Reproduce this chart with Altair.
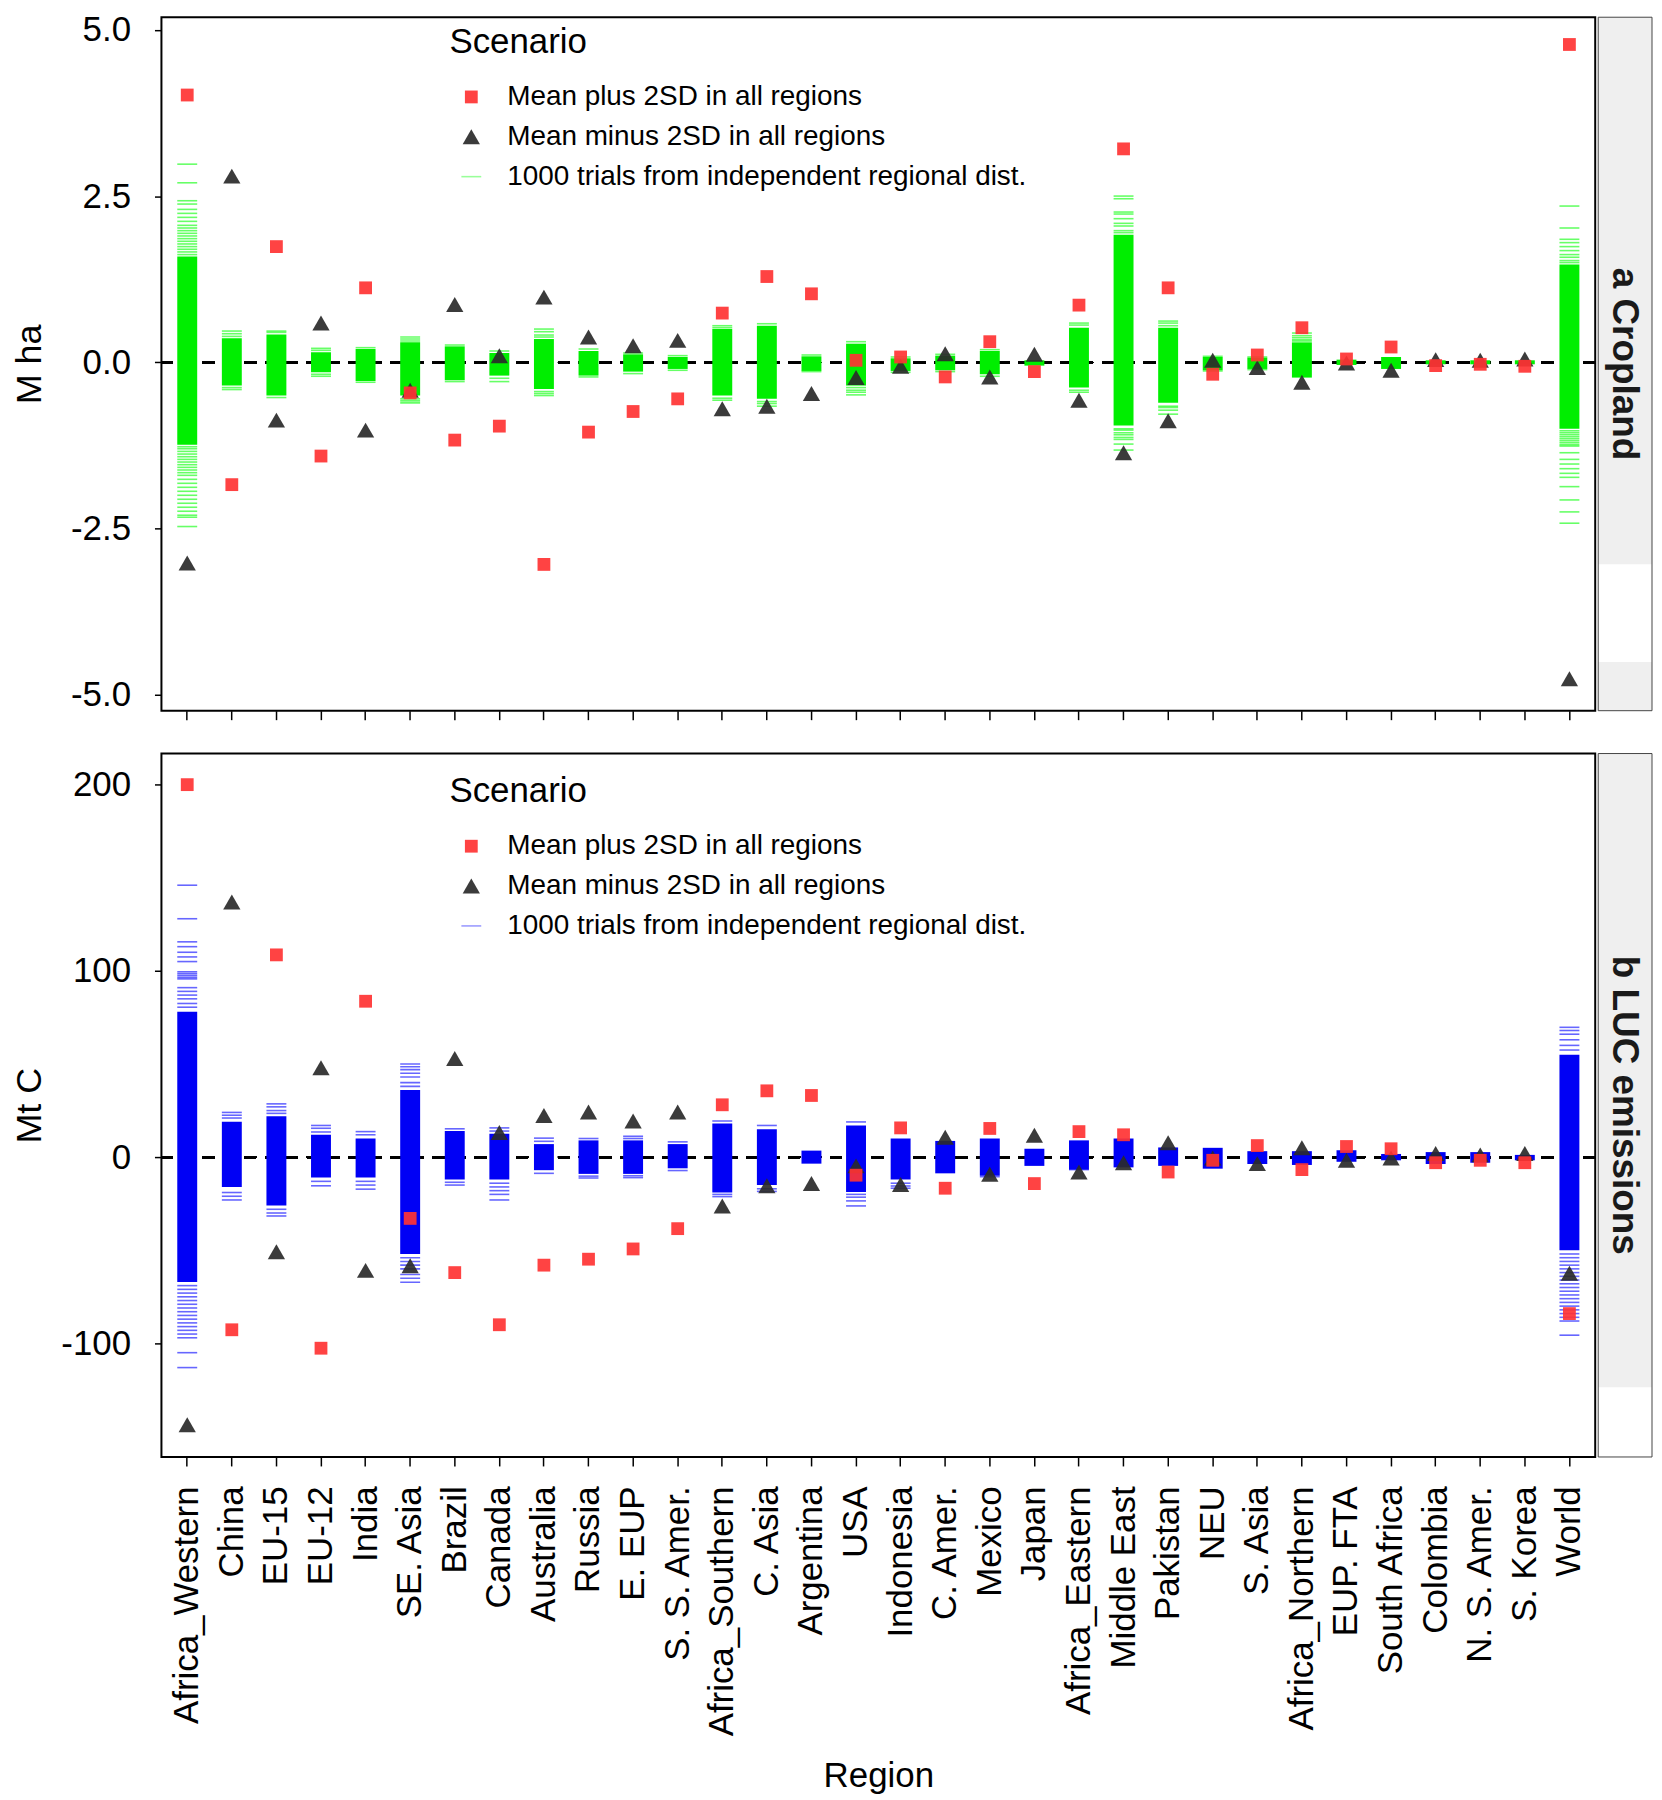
import altair as alt
import pandas as pd

FONT = "Liberation Sans"

regions = ["Africa_Western", "China", "EU-15", "EU-12", "India", "SE. Asia", "Brazil",
           "Canada", "Australia", "Russia", "E. EUP", "S. S. Amer.", "Africa_Southern",
           "C. Asia", "Argentina", "USA", "Indonesia", "C. Amer.", "Mexico", "Japan",
           "Africa_Eastern", "Middle East", "Pakistan", "NEU", "S. Asia", "Africa_Northern",
           "EUP. FTA", "South Africa", "Colombia", "N. S. Amer.", "S. Korea", "World"]

series_names = ["Mean plus 2SD in all regions", "Mean minus 2SD in all regions",
                "1000 trials from independent regional dist."]

# ---- panel a: Cropland (M ha) ----
crop_plus = [4.02, -1.84, 1.74, -1.41, 1.12, -0.46, -1.17, -0.96, -3.04, -1.05, -0.74, -0.55,
             0.74, 1.29, 1.03, 0.03, 0.08, -0.22, 0.31, -0.14, 0.86, 3.21, 1.12, -0.18,
             0.11, 0.52, 0.05, 0.23, -0.05, -0.03, -0.06, 4.78]
crop_minus = [-3.02, 2.80, -0.87, 0.59, -1.02, -0.42, 0.87, 0.10, 0.98, 0.38, 0.25, 0.33,
              -0.70, -0.66, -0.47, -0.23, -0.06, 0.13, -0.22, 0.12, -0.57, -1.36, -0.88, 0.03,
              -0.08, -0.30, -0.01, -0.12, 0.04, 0.03, 0.05, -4.76]
crop_lo = [-1.24, -0.35, -0.50, -0.15, -0.28, -0.50, -0.27, -0.20, -0.40, -0.20, -0.14, -0.10,
           -0.50, -0.55, -0.13, -0.35, -0.13, -0.12, -0.18, -0.05, -0.38, -0.95, -0.61, -0.12,
           -0.10, -0.23, -0.04, -0.10, -0.03, -0.03, -0.03, -1.00]
crop_hi = [1.59, 0.36, 0.42, 0.15, 0.20, 0.30, 0.24, 0.14, 0.35, 0.17, 0.12, 0.08,
           0.50, 0.55, 0.09, 0.28, 0.06, 0.10, 0.17, 0.03, 0.52, 1.92, 0.52, 0.08,
           0.07, 0.30, 0.04, 0.08, 0.03, 0.03, 0.03, 1.47]
crop_sparse = [
    [2.98, 2.70, 2.43, 2.38, 2.30, 2.24, 2.18, 2.12, 2.06, 2.02, 1.98, 1.94, 1.90, 1.86, 1.82,
     1.78, 1.74, 1.70, 1.66, 1.62, -1.27, -1.30, -1.34, -1.38, -1.42, -1.46, -1.50, -1.54,
     -1.58, -1.62, -1.66, -1.70, -1.76, -1.82, -1.88, -1.94, -2.00, -2.06, -2.12, -2.18,
     -2.24, -2.30, -2.33, -2.47],
    [0.47, 0.43, 0.39, -0.38, -0.41],
    [0.47, 0.45, -0.53],
    [0.21, 0.18, -0.18, -0.21],
    [0.22, -0.30],
    [0.38, 0.35, 0.32, -0.55, -0.58, -0.61],
    [0.26, -0.29],
    [0.17, -0.24, -0.29],
    [0.50, 0.46, 0.41, 0.38, -0.44, -0.47, -0.50],
    [0.20, -0.22],
    [0.14, -0.17],
    [0.10, -0.12],
    [0.55, 0.52, -0.54, -0.57],
    [0.58, -0.59, -0.62, -0.66],
    [0.11, -0.14],
    [0.31, -0.38, -0.42, -0.45, -0.49],
    [0.08, -0.15],
    [0.12, -0.14],
    [0.19, -0.21],
    [],
    [0.59, 0.56, -0.42, -0.45],
    [2.50, 2.46, 2.26, 2.23, 2.16, 2.09, 2.05, 1.98, 1.95, -1.00, -1.02, -1.06, -1.09, -1.13,
     -1.16, -1.23, -1.32],
    [0.62, 0.59, 0.55, -0.66, -0.68, -0.72, -0.78],
    [0.09, -0.13],
    [0.08, -0.11],
    [0.44, 0.40, 0.37, 0.34, 0.32],
    [],
    [],
    [],
    [],
    [],
    [2.35, 2.02, 1.85, 1.80, 1.74, 1.68, 1.62, 1.58, 1.53, 1.50, -1.03, -1.06, -1.09, -1.12,
     -1.15, -1.18, -1.21, -1.24, -1.26, -1.36, -1.46, -1.53, -1.60, -1.67, -1.73, -1.87,
     -2.07, -2.25, -2.42],
]

# ---- panel b: LUC emissions (Mt C) ----
luc_plus = [200, -92.7, 108.6, -102.6, 83.7, -32.9, -62, -90, -58, -54.8, -49.3, -38.4,
            28.1, 35.6, 33.1, -9.7, 15.7, -16.7, 15.4, -14.2, 13.7, 12, -8, -1.7,
            6.2, -6.7, 5.7, 4.5, -3, -1.7, -3, -84]
luc_minus = [-143.7, 137, -50.8, 48, -60.8, -58.3, 53, 13.2, 22.4, 24.2, 19.4, 24.2,
             -26.2, -15.4, -14.2, -4.7, -14.7, 10.7, -9.2, 11.7, -8, -3, 7.7, -0.5,
             -3.5, 5, -1.7, -0.5, 2, 1.2, 2, -62.3]
luc_lo = [-67, -16, -26, -11, -11, -52, -12, -12, -7, -9, -9, -6, -19, -15, -3.5, -18.7,
          -12, -8.7, -10, -4.7, -6.7, -5.5, -4.7, -6.2, -3.7, -4.2, -2.5, -1.7, -3.7, -3,
          -1.7, -50]
luc_hi = [78, 19, 22, 12, 10, 36, 14, 12.5, 7, 9, 9, 7, 18, 15, 3.5, 17, 10, 8.7, 10, 4.5,
          9, 10, 5.2, 5, 3.2, 3.2, 3.7, 1.7, 2.7, 2.7, 1.2, 55]
luc_sparse = [
    [146, 128, 115.6, 113, 110, 107.5, 105, 99.5, 98.5, 97.5, 96.5, 95.7, 91, 89, 87, 85,
     82.5, 80.5, -69, -71, -73, -75, -77, -79, -81, -83, -85, -87, -89, -91, -93, -95, -97,
     -105, -113],
    [24, 22.5, 21, -19, -21, -23],
    [28.6, 27, 25, 23.5, -28, -30, -31.6],
    [17, 15.5, 13.5, -13, -15.4],
    [13.7, 12, -13, -15, -17.2],
    [50, 48.5, 47, 45, 43, 40, 38, -54, -56, -58, -60, -63, -65, -67.2],
    [15.2, -13.5, -15],
    [15.7, 14, -14, -16, -18, -20, -23],
    [10.2, 8.5, -8.7],
    [10, -10.2, -11.2],
    [11.2, 10, -10, -11],
    [8.2, -7.2],
    [19.4, -20, -21.2],
    [17, -17, -18.4],
    [],
    [18.9, -20, -21.5, -23.5, -26.2],
    [-14, -15.5, -16.7],
    [],
    [-10.5],
    [],
    [-6.7],
    [],
    [],
    [],
    [],
    [],
    [],
    [],
    [],
    [],
    [],
    [69.7, 68, 66, 63, 60, 57.5, -52, -54, -56, -58, -60, -62, -64, -66, -68, -70, -72, -74,
     -76, -78, -80, -82, -84, -86, -88, -95.6],
]

W = 1439
H_TOP = 696
H_BOT = 706

MINUS_FIX = "replace(datum.label, '\u2212', '-')"


def panel(plus, minus, lo, hi, sparse, ydomain, yticks, yfmt, ytitle, core_color,
          sparse_color, legend_color, strip_text, grey_spans, H, bottom, legend_y, title_pad):
    pts = pd.DataFrame(
        [{"region": r, "series": series_names[1], "value": minus[i]} for i, r in enumerate(regions)]
        + [{"region": r, "series": series_names[0], "value": plus[i]} for i, r in enumerate(regions)]
    )
    core = pd.DataFrame({"region": regions, "lo": lo, "hi": hi})
    sp = pd.DataFrame([{"region": r, "value": v} for i, r in enumerate(regions) for v in sparse[i]])

    xscale = alt.Scale(domain=regions, paddingInner=0.553, paddingOuter=0.355)
    if bottom:
        xaxis = alt.Axis(labelAngle=-90, labelFontSize=35, labelPadding=20, labelLimit=400,
                         title="Region", titleFontSize=35, titleFontWeight="normal",
                         titlePadding=23, tickSize=9, tickWidth=1.5, tickColor="black",
                         domain=False, grid=False, bandPosition=0.5, labelFont=FONT,
                         titleFont=FONT, labelColor="black", titleColor="black",
                         maxExtent=400)
    else:
        xaxis = alt.Axis(labels=False, title=None, ticks=True, tickSize=9, tickWidth=1.5,
                         tickColor="black", domain=False, grid=False, bandPosition=0.5)
    yscale = alt.Scale(domain=ydomain, nice=False, zero=False)
    yaxis = alt.Axis(values=yticks, format=yfmt, labelExpr=MINUS_FIX, title=ytitle, grid=False,
                     domain=False, tickSize=7, tickWidth=1.5, tickColor="black",
                     labelPadding=24, titlePadding=title_pad, minExtent=101, maxExtent=101,
                     labelFontSize=35, titleFontSize=36, titleFontWeight="normal",
                     labelFont=FONT, titleFont=FONT, labelColor="black", titleColor="black")

    X = alt.X("region:N", scale=xscale, axis=xaxis, title=None if not bottom else "Region")

    rule = alt.Chart(pts).mark_rule(strokeDash=[12, 9], strokeWidth=2.2, color="black").encode(
        y=alt.datum(0, scale=yscale, axis=yaxis, title=ytitle)
    )
    bars = alt.Chart(core).mark_bar(color=core_color).encode(
        x=X,
        y=alt.Y("lo:Q", scale=yscale, axis=yaxis, title=ytitle),
        y2="hi:Q",
    )
    ticks = alt.Chart(sp).mark_tick(color=sparse_color, opacity=0.6, size=20, thickness=1.6).encode(
        x=X,
        y=alt.Y("value:Q", scale=yscale, axis=yaxis, title=ytitle),
    )
    leg = alt.Legend(title="Scenario", orient="none", legendX=289, legendY=legend_y)
    points = alt.Chart(pts).mark_point(filled=True, opacity=0.92, strokeWidth=0).encode(
        x=X,
        y=alt.Y("value:Q", scale=yscale, axis=yaxis, title=ytitle),
        color=alt.Color("series:N", scale=alt.Scale(domain=series_names,
                        range=["#ff3333", "#2a2a2a", legend_color]), legend=leg),
        shape=alt.Shape("series:N", scale=alt.Scale(domain=series_names,
                        range=["square", "triangle-up", "M-1.15,-0.09H1.15V0.09H-1.15Z"]), legend=leg),
        size=alt.Size("series:N", scale=alt.Scale(type="ordinal", domain=series_names,
                      range=[165, 300, 300]), legend=leg),
    )
    one = alt.Data(values=[{"k": 1}])
    greys = [
        alt.Chart(one).mark_rect(fill="#efefef").encode(
            x=alt.value(W + 3), x2=alt.value(W + 57), y=alt.value(a), y2=alt.value(b))
        for a, b in grey_spans
    ]
    frame = alt.Chart(one).mark_rect(fillOpacity=0, stroke="#444444", strokeWidth=1).encode(
        x=alt.value(W + 3), x2=alt.value(W + 57), y=alt.value(0), y2=alt.value(H))
    label = alt.Chart(one).mark_text(text=strip_text, angle=90, fontSize=37, fontWeight="bold",
                                     font=FONT, color="#1a1a1a", align="center",
                                     baseline="middle").encode(
        x=alt.value(W + 29), y=alt.value(H / 2))
    return alt.layer(rule, bars, ticks, points, *greys, frame, label).properties(width=W, height=H)


top = panel(crop_plus, crop_minus, crop_lo, crop_hi, crop_sparse, [-5.24, 5.19],
            [-5.0, -2.5, 0.0, 2.5, 5.0], ".1f", "M ha", "#00ee00", "#00ff00", "#90ff90",
            "a Cropland", [(0, 549), (647, H_TOP)], H_TOP, False, 8, 12)
bot = panel(luc_plus, luc_minus, luc_lo, luc_hi, luc_sparse, [-161, 216.7],
            [-100, 0, 100, 200], "d", "Mt C", "#0000f5", "#0000ff", "#9090ff",
            "b LUC emissions", [(0, 636)], H_BOT, True, 21, 12)

chart = alt.vconcat(top, bot, spacing=30).resolve_scale(
    color="independent", shape="independent", size="independent", x="independent", y="independent"
).resolve_legend(
    color="independent", shape="independent", size="independent"
).configure_view(
    stroke="black", strokeWidth=2
).configure_legend(
    titleFontSize=35, titleFont=FONT, titleFontWeight="normal", titleColor="black",
    labelFontSize=28, labelFont=FONT, labelColor="black", rowPadding=12, titlePadding=23,
    padding=0, labelOffset=22, symbolOffset=8, labelLimit=600
).properties(
    padding={"left": 3, "top": 0, "right": 0, "bottom": 0}
)

chart.save("out.html", embed_options={"renderer": "svg", "actions": False})
